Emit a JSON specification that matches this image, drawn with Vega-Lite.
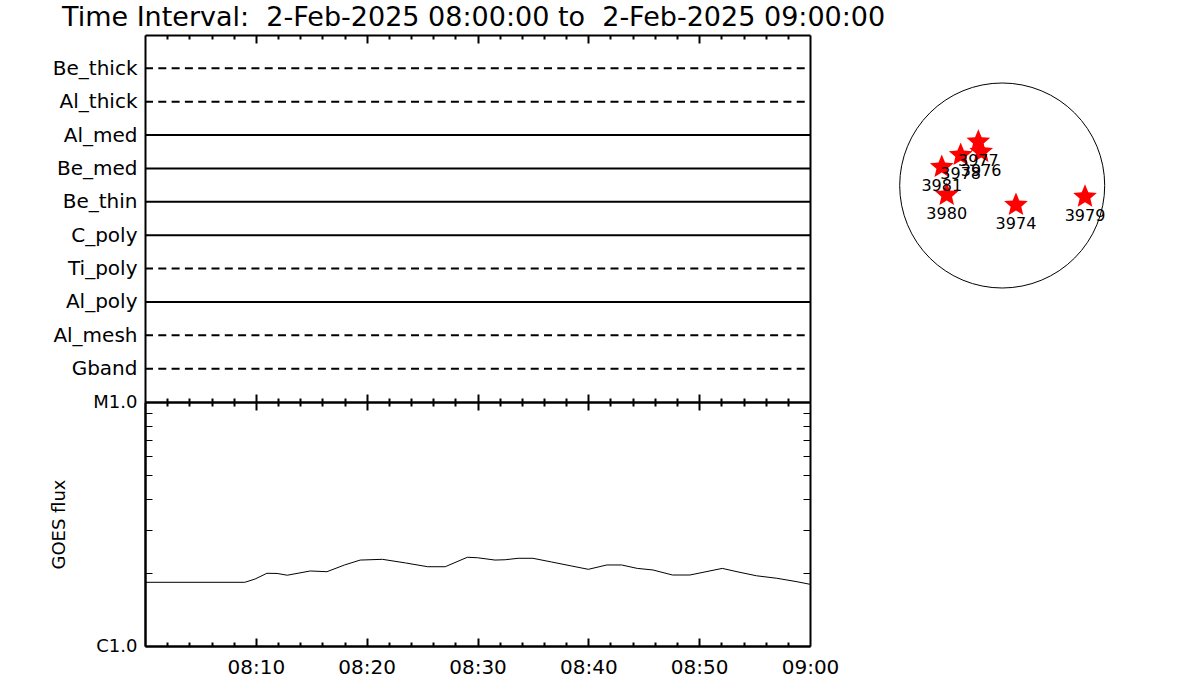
{
  "$schema": "https://vega.github.io/schema/vega-lite/v6.json",
  "width": 1055,
  "height": 611,
  "autosize": {"type": "none"},
  "padding": {"left": 145, "top": 35, "right": 0, "bottom": 54},
  "background": "white",
  "title": {
    "text": "Time Interval:\u00a0 2-Feb-2025 08:00:00 to\u00a0 2-Feb-2025 09:00:00",
    "anchor": "start",
    "frame": "group",
    "dx": -83,
    "offset": 2,
    "font": "DejaVu Sans",
    "fontSize": 27,
    "fontWeight": "normal",
    "color": "black"
  },
  "config": {
    "view": {"stroke": null},
    "axis": {
      "grid": false,
      "domainColor": "black",
      "domainWidth": 2,
      "tickColor": "black",
      "tickWidth": 2,
      "labelColor": "black",
      "titleColor": "black",
      "labelFont": "DejaVu Sans",
      "titleFont": "DejaVu Sans"
    }
  },
  "datasets": {
    "filters": [
      {"filter": "Be_thick", "observed": "no", "time": "2025-02-02T08:00:00"},
      {"filter": "Be_thick", "observed": "no", "time": "2025-02-02T09:00:00"},
      {"filter": "Al_thick", "observed": "no", "time": "2025-02-02T08:00:00"},
      {"filter": "Al_thick", "observed": "no", "time": "2025-02-02T09:00:00"},
      {"filter": "Al_med", "observed": "yes", "time": "2025-02-02T08:00:00"},
      {"filter": "Al_med", "observed": "yes", "time": "2025-02-02T09:00:00"},
      {"filter": "Be_med", "observed": "yes", "time": "2025-02-02T08:00:00"},
      {"filter": "Be_med", "observed": "yes", "time": "2025-02-02T09:00:00"},
      {"filter": "Be_thin", "observed": "yes", "time": "2025-02-02T08:00:00"},
      {"filter": "Be_thin", "observed": "yes", "time": "2025-02-02T09:00:00"},
      {"filter": "C_poly", "observed": "yes", "time": "2025-02-02T08:00:00"},
      {"filter": "C_poly", "observed": "yes", "time": "2025-02-02T09:00:00"},
      {"filter": "Ti_poly", "observed": "no", "time": "2025-02-02T08:00:00"},
      {"filter": "Ti_poly", "observed": "no", "time": "2025-02-02T09:00:00"},
      {"filter": "Al_poly", "observed": "yes", "time": "2025-02-02T08:00:00"},
      {"filter": "Al_poly", "observed": "yes", "time": "2025-02-02T09:00:00"},
      {"filter": "Al_mesh", "observed": "no", "time": "2025-02-02T08:00:00"},
      {"filter": "Al_mesh", "observed": "no", "time": "2025-02-02T09:00:00"},
      {"filter": "Gband", "observed": "no", "time": "2025-02-02T08:00:00"},
      {"filter": "Gband", "observed": "no", "time": "2025-02-02T09:00:00"}
    ],
    "goes": [
      {"time": "2025-02-02T08:00:00", "flux": 1.824e-6},
      {"time": "2025-02-02T08:09:00", "flux": 1.824e-6},
      {"time": "2025-02-02T08:09:55", "flux": 1.88e-6},
      {"time": "2025-02-02T08:11:00", "flux": 1.986e-6},
      {"time": "2025-02-02T08:11:55", "flux": 1.983e-6},
      {"time": "2025-02-02T08:12:50", "flux": 1.95e-6},
      {"time": "2025-02-02T08:14:55", "flux": 2.03e-6},
      {"time": "2025-02-02T08:16:25", "flux": 2.016e-6},
      {"time": "2025-02-02T08:18:00", "flux": 2.148e-6},
      {"time": "2025-02-02T08:19:25", "flux": 2.25e-6},
      {"time": "2025-02-02T08:21:25", "flux": 2.266e-6},
      {"time": "2025-02-02T08:23:30", "flux": 2.19e-6},
      {"time": "2025-02-02T08:25:30", "flux": 2.113e-6},
      {"time": "2025-02-02T08:27:05", "flux": 2.113e-6},
      {"time": "2025-02-02T08:29:05", "flux": 2.31e-6},
      {"time": "2025-02-02T08:30:00", "flux": 2.30e-6},
      {"time": "2025-02-02T08:31:35", "flux": 2.25e-6},
      {"time": "2025-02-02T08:32:30", "flux": 2.257e-6},
      {"time": "2025-02-02T08:33:40", "flux": 2.288e-6},
      {"time": "2025-02-02T08:35:00", "flux": 2.288e-6},
      {"time": "2025-02-02T08:36:40", "flux": 2.21e-6},
      {"time": "2025-02-02T08:38:30", "flux": 2.127e-6},
      {"time": "2025-02-02T08:40:00", "flux": 2.062e-6},
      {"time": "2025-02-02T08:41:40", "flux": 2.148e-6},
      {"time": "2025-02-02T08:43:00", "flux": 2.148e-6},
      {"time": "2025-02-02T08:44:25", "flux": 2.08e-6},
      {"time": "2025-02-02T08:45:50", "flux": 2.049e-6},
      {"time": "2025-02-02T08:47:35", "flux": 1.954e-6},
      {"time": "2025-02-02T08:49:10", "flux": 1.954e-6},
      {"time": "2025-02-02T08:52:05", "flux": 2.08e-6},
      {"time": "2025-02-02T08:53:25", "flux": 2.016e-6},
      {"time": "2025-02-02T08:55:10", "flux": 1.94e-6},
      {"time": "2025-02-02T08:57:00", "flux": 1.895e-6},
      {"time": "2025-02-02T08:58:50", "flux": 1.834e-6},
      {"time": "2025-02-02T09:00:00", "flux": 1.79e-6}
    ],
    "regions": [
      {"noaa": "3977", "hpc_x": -227, "hpc_y": 417},
      {"noaa": "3976", "hpc_x": -200, "hpc_y": 320},
      {"noaa": "3978", "hpc_x": -395, "hpc_y": 290},
      {"noaa": "3981", "hpc_x": -575, "hpc_y": 176},
      {"noaa": "3980", "hpc_x": -528, "hpc_y": -90},
      {"noaa": "3974", "hpc_x": 131, "hpc_y": -185},
      {"noaa": "3979", "hpc_x": 788, "hpc_y": -107}
    ],
    "disk": [{"hpc_x": 0, "hpc_y": 0}]
  },
  "resolve": {
    "scale": {"x": "independent", "y": "independent"},
    "axis": {"x": "independent", "y": "independent"}
  },
  "layer": [
    {
      "resolve": {
        "scale": {"y": "independent"},
        "axis": {"x": "independent", "y": "independent"}
      },
      "layer": [
        {
          "data": {"name": "filters"},
          "mark": {"type": "line", "strokeWidth": 2, "color": "black"},
          "encoding": {
            "x": {
              "field": "time", "type": "temporal",
              "scale": {"domain": [{"year": 2025, "month": 2, "date": 2, "hours": 8, "minutes": 0}, {"year": 2025, "month": 2, "date": 2, "hours": 9, "minutes": 0}], "range": [0, 665]},
              "axis": {"orient": "bottom", "offset": -611, "labels": false, "title": null, "tickSize": 4, "domain": true,
                "values": [{"year": 2025, "month": 2, "date": 2, "hours": 8, "minutes": 2}, {"year": 2025, "month": 2, "date": 2, "hours": 8, "minutes": 4}, {"year": 2025, "month": 2, "date": 2, "hours": 8, "minutes": 6}, {"year": 2025, "month": 2, "date": 2, "hours": 8, "minutes": 8}, {"year": 2025, "month": 2, "date": 2, "hours": 8, "minutes": 12}, {"year": 2025, "month": 2, "date": 2, "hours": 8, "minutes": 14}, {"year": 2025, "month": 2, "date": 2, "hours": 8, "minutes": 16}, {"year": 2025, "month": 2, "date": 2, "hours": 8, "minutes": 18}, {"year": 2025, "month": 2, "date": 2, "hours": 8, "minutes": 22}, {"year": 2025, "month": 2, "date": 2, "hours": 8, "minutes": 24}, {"year": 2025, "month": 2, "date": 2, "hours": 8, "minutes": 26}, {"year": 2025, "month": 2, "date": 2, "hours": 8, "minutes": 28}, {"year": 2025, "month": 2, "date": 2, "hours": 8, "minutes": 32}, {"year": 2025, "month": 2, "date": 2, "hours": 8, "minutes": 34}, {"year": 2025, "month": 2, "date": 2, "hours": 8, "minutes": 36}, {"year": 2025, "month": 2, "date": 2, "hours": 8, "minutes": 38}, {"year": 2025, "month": 2, "date": 2, "hours": 8, "minutes": 42}, {"year": 2025, "month": 2, "date": 2, "hours": 8, "minutes": 44}, {"year": 2025, "month": 2, "date": 2, "hours": 8, "minutes": 46}, {"year": 2025, "month": 2, "date": 2, "hours": 8, "minutes": 48}, {"year": 2025, "month": 2, "date": 2, "hours": 8, "minutes": 52}, {"year": 2025, "month": 2, "date": 2, "hours": 8, "minutes": 54}, {"year": 2025, "month": 2, "date": 2, "hours": 8, "minutes": 56}, {"year": 2025, "month": 2, "date": 2, "hours": 8, "minutes": 58}]}
            },
            "y": {
              "field": "filter", "type": "nominal",
              "scale": {"type": "point", "domain": ["Be_thick", "Al_thick", "Al_med", "Be_med", "Be_thin", "C_poly", "Ti_poly", "Al_poly", "Al_mesh", "Gband"], "range": [0, 367], "padding": 1},
              "axis": {"orient": "left", "title": null, "ticks": false, "tickSize": 0, "labelPadding": 8, "labelFontSize": 20}
            },
            "strokeDash": {
              "field": "observed", "type": "nominal",
              "scale": {"domain": ["yes", "no"], "range": [[1, 0], [8, 5.3]]},
              "legend": null
            },
            "detail": {"field": "filter", "type": "nominal"}
          }
        },
        {
          "data": {"name": "filters"},
          "mark": {"type": "line", "strokeWidth": 2, "color": "black", "opacity": 0},
          "encoding": {
            "x": {
              "field": "time", "type": "temporal",
              "scale": {"domain": [{"year": 2025, "month": 2, "date": 2, "hours": 8, "minutes": 0}, {"year": 2025, "month": 2, "date": 2, "hours": 9, "minutes": 0}], "range": [0, 665]},
              "axis": {"orient": "top", "offset": -367, "labels": false, "title": null, "tickSize": 4, "domain": true,
                "values": [{"year": 2025, "month": 2, "date": 2, "hours": 8, "minutes": 2}, {"year": 2025, "month": 2, "date": 2, "hours": 8, "minutes": 4}, {"year": 2025, "month": 2, "date": 2, "hours": 8, "minutes": 6}, {"year": 2025, "month": 2, "date": 2, "hours": 8, "minutes": 8}, {"year": 2025, "month": 2, "date": 2, "hours": 8, "minutes": 12}, {"year": 2025, "month": 2, "date": 2, "hours": 8, "minutes": 14}, {"year": 2025, "month": 2, "date": 2, "hours": 8, "minutes": 16}, {"year": 2025, "month": 2, "date": 2, "hours": 8, "minutes": 18}, {"year": 2025, "month": 2, "date": 2, "hours": 8, "minutes": 22}, {"year": 2025, "month": 2, "date": 2, "hours": 8, "minutes": 24}, {"year": 2025, "month": 2, "date": 2, "hours": 8, "minutes": 26}, {"year": 2025, "month": 2, "date": 2, "hours": 8, "minutes": 28}, {"year": 2025, "month": 2, "date": 2, "hours": 8, "minutes": 32}, {"year": 2025, "month": 2, "date": 2, "hours": 8, "minutes": 34}, {"year": 2025, "month": 2, "date": 2, "hours": 8, "minutes": 36}, {"year": 2025, "month": 2, "date": 2, "hours": 8, "minutes": 38}, {"year": 2025, "month": 2, "date": 2, "hours": 8, "minutes": 42}, {"year": 2025, "month": 2, "date": 2, "hours": 8, "minutes": 44}, {"year": 2025, "month": 2, "date": 2, "hours": 8, "minutes": 46}, {"year": 2025, "month": 2, "date": 2, "hours": 8, "minutes": 48}, {"year": 2025, "month": 2, "date": 2, "hours": 8, "minutes": 52}, {"year": 2025, "month": 2, "date": 2, "hours": 8, "minutes": 54}, {"year": 2025, "month": 2, "date": 2, "hours": 8, "minutes": 56}, {"year": 2025, "month": 2, "date": 2, "hours": 8, "minutes": 58}]}
            },
            "y": {
              "field": "filter", "type": "nominal",
              "scale": {"type": "point", "domain": ["Be_thick", "Al_thick", "Al_med", "Be_med", "Be_thin", "C_poly", "Ti_poly", "Al_poly", "Al_mesh", "Gband"], "range": [0, 367], "padding": 1},
              "axis": {"orient": "right", "offset": -390, "title": null, "ticks": false, "labels": false}
            },
            "detail": {"field": "filter", "type": "nominal"}
          }
        },
        {
          "data": {"name": "goes"},
          "mark": {"type": "line", "strokeWidth": 1, "color": "black"},
          "encoding": {
            "x": {
              "field": "time", "type": "temporal",
              "scale": {"domain": [{"year": 2025, "month": 2, "date": 2, "hours": 8, "minutes": 0}, {"year": 2025, "month": 2, "date": 2, "hours": 9, "minutes": 0}], "range": [0, 665]},
              "axis": {"orient": "bottom", "title": null, "ticks": false, "tickSize": 0, "domain": true, "format": "%H:%M",
                "labelFontSize": 20, "labelPadding": 11, "labelFlush": false,
                "values": [{"year": 2025, "month": 2, "date": 2, "hours": 8, "minutes": 10}, {"year": 2025, "month": 2, "date": 2, "hours": 8, "minutes": 20}, {"year": 2025, "month": 2, "date": 2, "hours": 8, "minutes": 30}, {"year": 2025, "month": 2, "date": 2, "hours": 8, "minutes": 40}, {"year": 2025, "month": 2, "date": 2, "hours": 8, "minutes": 50}, {"year": 2025, "month": 2, "date": 2, "hours": 9, "minutes": 0}]}
            },
            "y": {
              "field": "flux", "type": "quantitative",
              "scale": {"type": "log", "domain": [0.000001, 0.00001], "range": [611, 367]},
              "axis": {
                "orient": "left",
                "values": [0.000001, 0.00001],
                "ticks": false, "tickSize": 0,
                "labelExpr": "datum.value < 0.000002 ? 'C1.0' : 'M1.0'",
                "labelFontSize": 18, "labelPadding": 8,
                "title": "GOES flux", "titleFontSize": 18, "titleFontWeight": "normal",
                "titleX": -77, "titleY": 489
              }
            }
          }
        },
        {
          "data": {"name": "goes"},
          "mark": {"type": "line", "strokeWidth": 1, "color": "black", "opacity": 0},
          "encoding": {
            "x": {
              "field": "time", "type": "temporal",
              "scale": {"domain": [{"year": 2025, "month": 2, "date": 2, "hours": 8, "minutes": 0}, {"year": 2025, "month": 2, "date": 2, "hours": 9, "minutes": 0}], "range": [0, 665]},
              "axis": {"orient": "bottom", "offset": -244, "labels": false, "title": null, "tickSize": 4, "domain": true,
                "values": [{"year": 2025, "month": 2, "date": 2, "hours": 8, "minutes": 2}, {"year": 2025, "month": 2, "date": 2, "hours": 8, "minutes": 4}, {"year": 2025, "month": 2, "date": 2, "hours": 8, "minutes": 6}, {"year": 2025, "month": 2, "date": 2, "hours": 8, "minutes": 8}, {"year": 2025, "month": 2, "date": 2, "hours": 8, "minutes": 12}, {"year": 2025, "month": 2, "date": 2, "hours": 8, "minutes": 14}, {"year": 2025, "month": 2, "date": 2, "hours": 8, "minutes": 16}, {"year": 2025, "month": 2, "date": 2, "hours": 8, "minutes": 18}, {"year": 2025, "month": 2, "date": 2, "hours": 8, "minutes": 22}, {"year": 2025, "month": 2, "date": 2, "hours": 8, "minutes": 24}, {"year": 2025, "month": 2, "date": 2, "hours": 8, "minutes": 26}, {"year": 2025, "month": 2, "date": 2, "hours": 8, "minutes": 28}, {"year": 2025, "month": 2, "date": 2, "hours": 8, "minutes": 32}, {"year": 2025, "month": 2, "date": 2, "hours": 8, "minutes": 34}, {"year": 2025, "month": 2, "date": 2, "hours": 8, "minutes": 36}, {"year": 2025, "month": 2, "date": 2, "hours": 8, "minutes": 38}, {"year": 2025, "month": 2, "date": 2, "hours": 8, "minutes": 42}, {"year": 2025, "month": 2, "date": 2, "hours": 8, "minutes": 44}, {"year": 2025, "month": 2, "date": 2, "hours": 8, "minutes": 46}, {"year": 2025, "month": 2, "date": 2, "hours": 8, "minutes": 48}, {"year": 2025, "month": 2, "date": 2, "hours": 8, "minutes": 52}, {"year": 2025, "month": 2, "date": 2, "hours": 8, "minutes": 54}, {"year": 2025, "month": 2, "date": 2, "hours": 8, "minutes": 56}, {"year": 2025, "month": 2, "date": 2, "hours": 8, "minutes": 58}]}
            },
            "y": {
              "field": "flux", "type": "quantitative",
              "scale": {"type": "log", "domain": [0.000001, 0.00001], "range": [611, 367]},
              "axis": {"orient": "right", "offset": -1055, "labels": false, "title": null, "tickSize": 7, "tickWidth": 1, "domain": true,
                "values": [0.000001, 0.000002, 0.000003, 0.000004, 0.000005, 0.000006, 0.000007, 0.000008, 0.000009, 0.00001]}
            }
          }
        },
        {
          "data": {"name": "goes"},
          "mark": {"type": "line", "strokeWidth": 1, "color": "black", "opacity": 0},
          "encoding": {
            "x": {
              "field": "time", "type": "temporal",
              "scale": {"domain": [{"year": 2025, "month": 2, "date": 2, "hours": 8, "minutes": 0}, {"year": 2025, "month": 2, "date": 2, "hours": 9, "minutes": 0}], "range": [0, 665]},
              "axis": {"orient": "top", "offset": -611, "labels": false, "title": null, "tickSize": 4, "domain": true,
                "values": [{"year": 2025, "month": 2, "date": 2, "hours": 8, "minutes": 2}, {"year": 2025, "month": 2, "date": 2, "hours": 8, "minutes": 4}, {"year": 2025, "month": 2, "date": 2, "hours": 8, "minutes": 6}, {"year": 2025, "month": 2, "date": 2, "hours": 8, "minutes": 8}, {"year": 2025, "month": 2, "date": 2, "hours": 8, "minutes": 12}, {"year": 2025, "month": 2, "date": 2, "hours": 8, "minutes": 14}, {"year": 2025, "month": 2, "date": 2, "hours": 8, "minutes": 16}, {"year": 2025, "month": 2, "date": 2, "hours": 8, "minutes": 18}, {"year": 2025, "month": 2, "date": 2, "hours": 8, "minutes": 22}, {"year": 2025, "month": 2, "date": 2, "hours": 8, "minutes": 24}, {"year": 2025, "month": 2, "date": 2, "hours": 8, "minutes": 26}, {"year": 2025, "month": 2, "date": 2, "hours": 8, "minutes": 28}, {"year": 2025, "month": 2, "date": 2, "hours": 8, "minutes": 32}, {"year": 2025, "month": 2, "date": 2, "hours": 8, "minutes": 34}, {"year": 2025, "month": 2, "date": 2, "hours": 8, "minutes": 36}, {"year": 2025, "month": 2, "date": 2, "hours": 8, "minutes": 38}, {"year": 2025, "month": 2, "date": 2, "hours": 8, "minutes": 42}, {"year": 2025, "month": 2, "date": 2, "hours": 8, "minutes": 44}, {"year": 2025, "month": 2, "date": 2, "hours": 8, "minutes": 46}, {"year": 2025, "month": 2, "date": 2, "hours": 8, "minutes": 48}, {"year": 2025, "month": 2, "date": 2, "hours": 8, "minutes": 52}, {"year": 2025, "month": 2, "date": 2, "hours": 8, "minutes": 54}, {"year": 2025, "month": 2, "date": 2, "hours": 8, "minutes": 56}, {"year": 2025, "month": 2, "date": 2, "hours": 8, "minutes": 58}]}
            },
            "y": {
              "field": "flux", "type": "quantitative",
              "scale": {"type": "log", "domain": [0.000001, 0.00001], "range": [611, 367]},
              "axis": {"orient": "left", "offset": -665, "labels": false, "title": null, "tickSize": 7, "tickWidth": 1, "domain": true,
                "values": [0.000001, 0.000002, 0.000003, 0.000004, 0.000005, 0.000006, 0.000007, 0.000008, 0.000009, 0.00001]}
            }
          }
        },
        {
          "data": {"name": "goes"},
          "mark": {"type": "line", "opacity": 0},
          "encoding": {
            "x": {
              "field": "time", "type": "temporal",
              "scale": {"domain": [{"year": 2025, "month": 2, "date": 2, "hours": 8, "minutes": 0}, {"year": 2025, "month": 2, "date": 2, "hours": 9, "minutes": 0}], "range": [0, 665]},
              "axis": {"orient": "bottom", "offset": -611, "labels": false, "title": null, "tickSize": 8, "domain": false,
                "values": [{"year": 2025, "month": 2, "date": 2, "hours": 8, "minutes": 10}, {"year": 2025, "month": 2, "date": 2, "hours": 8, "minutes": 20}, {"year": 2025, "month": 2, "date": 2, "hours": 8, "minutes": 30}, {"year": 2025, "month": 2, "date": 2, "hours": 8, "minutes": 40}, {"year": 2025, "month": 2, "date": 2, "hours": 8, "minutes": 50}]}
            },
            "y": {"field": "flux", "type": "quantitative", "scale": {"type": "log", "domain": [0.000001, 0.00001], "range": [611, 367]}, "axis": null}
          }
        },
        {
          "data": {"name": "goes"},
          "mark": {"type": "line", "opacity": 0},
          "encoding": {
            "x": {
              "field": "time", "type": "temporal",
              "scale": {"domain": [{"year": 2025, "month": 2, "date": 2, "hours": 8, "minutes": 0}, {"year": 2025, "month": 2, "date": 2, "hours": 9, "minutes": 0}], "range": [0, 665]},
              "axis": {"orient": "top", "offset": -367, "labels": false, "title": null, "tickSize": 8, "domain": false,
                "values": [{"year": 2025, "month": 2, "date": 2, "hours": 8, "minutes": 10}, {"year": 2025, "month": 2, "date": 2, "hours": 8, "minutes": 20}, {"year": 2025, "month": 2, "date": 2, "hours": 8, "minutes": 30}, {"year": 2025, "month": 2, "date": 2, "hours": 8, "minutes": 40}, {"year": 2025, "month": 2, "date": 2, "hours": 8, "minutes": 50}]}
            },
            "y": {"field": "flux", "type": "quantitative", "scale": {"type": "log", "domain": [0.000001, 0.00001], "range": [611, 367]}, "axis": null}
          }
        },
        {
          "data": {"name": "goes"},
          "mark": {"type": "line", "opacity": 0},
          "encoding": {
            "x": {
              "field": "time", "type": "temporal",
              "scale": {"domain": [{"year": 2025, "month": 2, "date": 2, "hours": 8, "minutes": 0}, {"year": 2025, "month": 2, "date": 2, "hours": 9, "minutes": 0}], "range": [0, 665]},
              "axis": {"orient": "bottom", "offset": -244, "labels": false, "title": null, "tickSize": 8, "domain": false,
                "values": [{"year": 2025, "month": 2, "date": 2, "hours": 8, "minutes": 10}, {"year": 2025, "month": 2, "date": 2, "hours": 8, "minutes": 20}, {"year": 2025, "month": 2, "date": 2, "hours": 8, "minutes": 30}, {"year": 2025, "month": 2, "date": 2, "hours": 8, "minutes": 40}, {"year": 2025, "month": 2, "date": 2, "hours": 8, "minutes": 50}]}
            },
            "y": {"field": "flux", "type": "quantitative", "scale": {"type": "log", "domain": [0.000001, 0.00001], "range": [611, 367]}, "axis": null}
          }
        },
        {
          "data": {"name": "goes"},
          "mark": {"type": "line", "opacity": 0},
          "encoding": {
            "x": {
              "field": "time", "type": "temporal",
              "scale": {"domain": [{"year": 2025, "month": 2, "date": 2, "hours": 8, "minutes": 0}, {"year": 2025, "month": 2, "date": 2, "hours": 9, "minutes": 0}], "range": [0, 665]},
              "axis": {"orient": "top", "offset": -611, "labels": false, "title": null, "tickSize": 8, "domain": false,
                "values": [{"year": 2025, "month": 2, "date": 2, "hours": 8, "minutes": 10}, {"year": 2025, "month": 2, "date": 2, "hours": 8, "minutes": 20}, {"year": 2025, "month": 2, "date": 2, "hours": 8, "minutes": 30}, {"year": 2025, "month": 2, "date": 2, "hours": 8, "minutes": 40}, {"year": 2025, "month": 2, "date": 2, "hours": 8, "minutes": 50}]}
            },
            "y": {"field": "flux", "type": "quantitative", "scale": {"type": "log", "domain": [0.000001, 0.00001], "range": [611, 367]}, "axis": null}
          }
        }
      ]
    },
    {
      "layer": [
        {
          "data": {"name": "disk"},
          "mark": {"type": "point", "shape": "circle", "size": 42025, "filled": false, "stroke": "black", "strokeWidth": 1, "opacity": 1},
          "encoding": {
            "x": {"field": "hpc_x", "type": "quantitative", "scale": {"domain": [-1100, 1100], "range": [741.6, 972.8], "nice": false, "zero": false}, "axis": null},
            "y": {"field": "hpc_y", "type": "quantitative", "scale": {"domain": [-1100, 1100], "range": [266.1, 34.9], "nice": false, "zero": false}, "axis": null}
          }
        },
        {
          "data": {"name": "regions"},
          "mark": {"type": "point", "shape": "M0,-1L0.265,-0.364L0.951,-0.309L0.428,0.139L0.588,0.809L0,0.45L-0.588,0.809L-0.428,0.139L-0.951,-0.309L-0.265,-0.364Z", "size": 620, "filled": true, "color": "red", "opacity": 1},
          "encoding": {
            "x": {"field": "hpc_x", "type": "quantitative"},
            "y": {"field": "hpc_y", "type": "quantitative"}
          }
        },
        {
          "data": {"name": "regions"},
          "mark": {"type": "text", "dy": 19, "fontSize": 16, "font": "DejaVu Sans", "color": "black", "align": "center", "baseline": "middle"},
          "encoding": {
            "x": {"field": "hpc_x", "type": "quantitative"},
            "y": {"field": "hpc_y", "type": "quantitative"},
            "text": {"field": "noaa", "type": "nominal"}
          }
        }
      ]
    }
  ]
}
